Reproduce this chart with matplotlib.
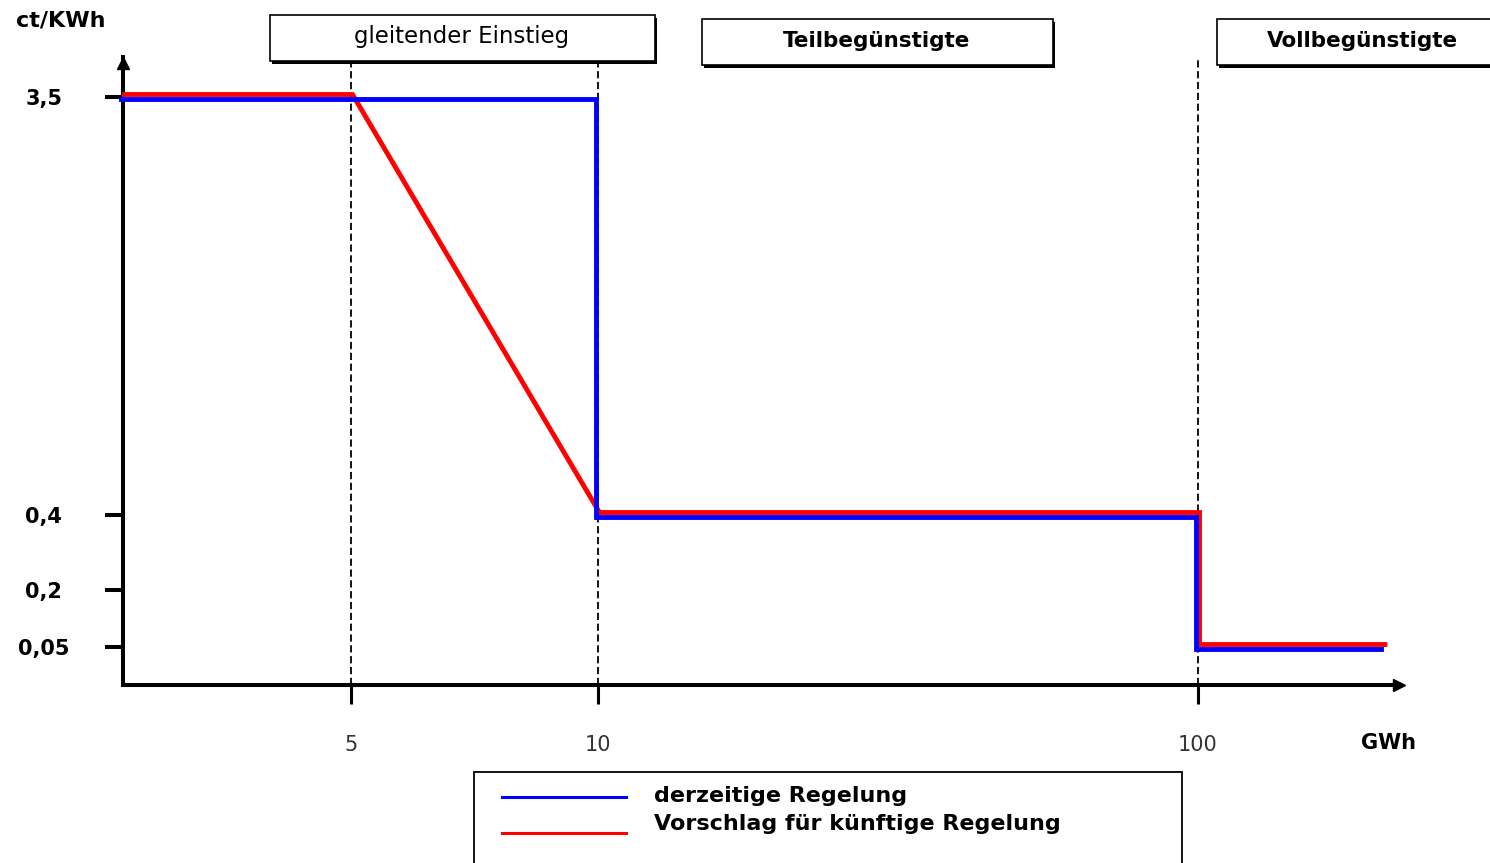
import numpy as np
import matplotlib
matplotlib.use("Agg")
import matplotlib.pyplot as plt
from matplotlib.patches import Rectangle
from matplotlib.lines import Line2D
import matplotlib.transforms as mtransforms

plt.rcParams['font.family'] = ['DejaVu Sans']

# ---- data ----
y_unit = "ct/KWh"
x_unit = "GWh"
y_ticks = [0.05, 0.2, 0.4, 3.5]
y_ticklabels = ["0,05", "0,2", "0,4", "3,5"]
x_ticks = [5, 10, 100]
x_ticklabels = ["5", "10", "100"]

current_x = [0, 10, 10, 100, 100, 190]
current_y = [3.5, 3.5, 0.4, 0.4, 0.05, 0.05]
proposal_x = [0, 5, 10, 100, 100, 190]
proposal_y = [3.5, 3.5, 0.4, 0.4, 0.05, 0.05]
series_names = ["derzeitige Regelung", "Vorschlag für künftige Regelung"]
zone_labels = ["gleitender Einstieg", "Teilbegünstigte", "Vollbegünstigte"]

# ---- schematic (piecewise linear) scales ----
XB_D = [0, 5, 10, 100, 200]
XB_P = [0, 228, 475, 1075, 1281]
YB_D = [0, 0.05, 0.2, 0.4, 3.5, 4.0]
YB_P = [0, 38, 95, 170, 588, 628]

def xf(v): return np.interp(v, XB_D, XB_P)
def xi(v): return np.interp(v, XB_P, XB_D)
def yf(v): return np.interp(v, YB_D, YB_P)
def yi(v): return np.interp(v, YB_P, YB_D)

W, H = 1490, 863
fig = plt.figure(figsize=(W / 100, H / 100), dpi=100)

def fx(px): return px / W
def fy(py): return 1 - py / H

ax_left, ax_bottom_px = 123, 685
ax = fig.add_axes([fx(ax_left), fy(ax_bottom_px), 1274 / W, 628 / H])
ax.set_xscale('function', functions=(xf, xi))
ax.set_yscale('function', functions=(yf, yi))
ax.set_xlim(0, xi(1274))
ax.set_ylim(0, 4.0)
ax.patch.set_alpha(0)

for s in ['top', 'right']:
    ax.spines[s].set_visible(False)
for s in ['left', 'bottom']:
    ax.spines[s].set_linewidth(2.9)
    ax.spines[s].set_color('black')

# arrowheads
ax.plot([1], [0], marker='>', color='black', markersize=9, clip_on=False,
        transform=ax.transAxes + mtransforms.ScaledTranslation(0.02, 0, fig.dpi_scale_trans))
ax.plot([0], [1], marker='^', color='black', markersize=9, clip_on=False,
        transform=ax.transAxes + mtransforms.ScaledTranslation(0, -0.06, fig.dpi_scale_trans))

# ticks
ax.set_yticks(y_ticks)
ax.set_yticklabels(y_ticklabels, fontsize=15, fontweight='bold')
ax.tick_params(axis='y', length=13, width=2.9, direction='out', pad=44)
for lab in ax.get_yticklabels():
    lab.set_horizontalalignment('center')
ax.yaxis.set_minor_locator(matplotlib.ticker.NullLocator())

ax.set_xticks(x_ticks)
ax.set_xticklabels(x_ticklabels, fontsize=15, color='#333333')
ax.tick_params(axis='x', length=14, width=2.2, direction='out', pad=22)
ax.xaxis.set_minor_locator(matplotlib.ticker.NullLocator())

# dashed guides
for xv, top_px in zip(x_ticks, [62, 62, 57]):
    ax.axvline(xv, ymin=0, ymax=(ax_bottom_px - top_px) / 628, color='black',
               linestyle=(0, (4, 2)), linewidth=1.3, clip_on=False, zorder=1)

# series with small offsets like the original
off_red = mtransforms.ScaledTranslation(0.015, 0.025, fig.dpi_scale_trans)
off_blue = mtransforms.ScaledTranslation(-0.02, -0.02, fig.dpi_scale_trans)
ax.plot(proposal_x, proposal_y, color='#ff0000', linewidth=3.5, solid_joinstyle='miter',
        transform=ax.transData + off_red, zorder=3, clip_on=False)
ax.plot(current_x, current_y, color='#0000ff', linewidth=3.5, solid_joinstyle='miter',
        transform=ax.transData + off_blue, zorder=4, clip_on=False)

# axis units
fig.text(fx(16), fy(20), y_unit, fontsize=16, fontweight='bold', ha='left', va='center')
fig.text(fx(1389), fy(743), x_unit, fontsize=15, fontweight='bold', ha='center', va='center')

# zone boxes: (x, y, w, h, text centre x)
boxes = [(270, 15, 385, 46, 462), (702, 19, 351, 46, 877), (1217, 19, 300, 46, 1362)]
for (bx, by, bw, bh, cx), label in zip(boxes, zone_labels):
    shadow = Rectangle((fx(bx + 2), fy(by + bh + 3)), bw / W, bh / H, transform=fig.transFigure,
                       facecolor='black', edgecolor='black', linewidth=0, zorder=5)
    fig.add_artist(shadow)
    rect = Rectangle((fx(bx), fy(by + bh)), bw / W, bh / H, transform=fig.transFigure,
                     facecolor='white', edgecolor='black', linewidth=1.2, zorder=6)
    fig.add_artist(rect)
    is_first = label == zone_labels[0]
    fig.text(fx(cx), fy(by + bh / 2 - 1), label, fontsize=16.5 if is_first else 15.5,
             fontweight='normal' if is_first else 'bold',
             ha='center', va='center', zorder=7)

# legend (manual)
leg = Rectangle((fx(474), fy(900)), (1182 - 474) / W, (900 - 772) / H, transform=fig.transFigure,
                facecolor='white', edgecolor='black', linewidth=1.3, zorder=5, clip_on=False)
fig.add_artist(leg)
fig.add_artist(Line2D([fx(502), fx(626)], [fy(797), fy(797)], transform=fig.transFigure,
                      color='#0000ff', linewidth=2.2, zorder=6))
fig.add_artist(Line2D([fx(502), fx(626)], [fy(833), fy(833)], transform=fig.transFigure,
                      color='#ff0000', linewidth=2.2, zorder=6))
fig.text(fx(654), fy(796), series_names[0], fontsize=16, fontweight='bold', ha='left', va='center', zorder=7)
fig.text(fx(654), fy(824), series_names[1], fontsize=16, fontweight='bold', ha='left', va='center', zorder=7)

fig.savefig("out.png", dpi=100)
